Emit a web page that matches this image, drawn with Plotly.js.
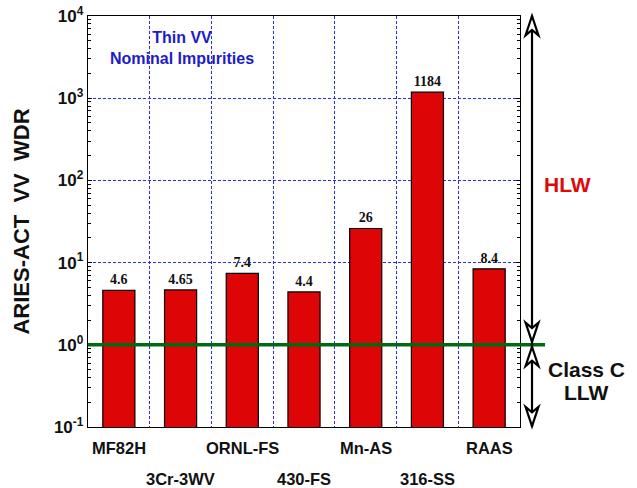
<!DOCTYPE html>
<html>
<head>
<meta charset="utf-8">
<script src="https://cdn.plot.ly/plotly-3.0.1.min.js"></script>
<style>html,body{margin:0;padding:0;background:#fff;}#chart{width:637px;height:488px;}</style>
</head>
<body>
<div id="chart"></div>
<script>
// ---- data ----
var categories = ["MF82H", "3Cr-3WV", "ORNL-FS", "430-FS", "Mn-AS", "316-SS", "RAAS"];
var wdrValues = [4.6, 4.65, 7.4, 4.4, 26, 1184, 8.4];
var wdrLabels = ["4.6", "4.65", "7.4", "4.4", "26", "1184", "8.4"];
var labelRow = [0, 1, 0, 1, 0, 1, 0];
var yTickVals = [0.1, 1, 10, 100, 1000, 10000];
var yTickText = ["10<sup>-1</sup>", "10<sup>0</sup>", "10<sup>1</sup>", "10<sup>2</sup>", "10<sup>3</sup>", "10<sup>4</sup>"];
var classCLimit = 1;

var xs = categories.map(function (c, i) { return i + 1; });

// minor log ticks (axis decoration)
var minorVals = [];
for (var d = -1; d < 4; d++) { for (var k = 2; k <= 9; k++) { minorVals.push(k * Math.pow(10, d)); } }

var SANS = 'Liberation Sans, Arial, sans-serif';
var trace = {
  type: 'bar',
  x: xs,
  y: wdrValues,
  width: 0.52,
  marker: { color: '#dd0505', line: { color: '#000', width: 1.2 } },
  text: wdrLabels.map(function (t) { return '<b>' + t + '</b>'; }),
  textposition: 'outside',
  textfont: { family: 'Liberation Serif, Times New Roman, serif', size: 14, color: '#111' },
  cliponaxis: false,
  hoverinfo: 'skip'
};

var annotations = categories.map(function (c, i) {
  return {
    x: xs[i], xref: 'x', y: labelRow[i] === 0 ? -0.05 : -0.127, yref: 'paper',
    yanchor: 'middle', xanchor: 'center', showarrow: false,
    text: '<b>' + c + '</b>', font: { family: SANS, size: 16.5, color: '#111' }
  };
});
annotations.push(
  { x: 0.218, y: 0.922, xref: 'paper', yref: 'paper', showarrow: false, align: 'center', yanchor: 'middle', xanchor: 'center',
    text: '<b>Thin VV<br>Nominal Impurities</b>', font: { family: SANS, size: 16, color: '#1c1ccc' } },
  { x: 1.109, y: 0.589, xref: 'paper', yref: 'paper', showarrow: false, xanchor: 'center', yanchor: 'middle',
    text: '<b>HLW</b>', font: { family: SANS, size: 21, color: '#dd0a0a' } },
  { x: 1.153, y: 0.139, xref: 'paper', yref: 'paper', showarrow: false, xanchor: 'center', yanchor: 'middle',
    text: '<b>Class C</b>', font: { family: SANS, size: 21, color: '#111' } },
  { x: 1.153, y: 0.083, xref: 'paper', yref: 'paper', showarrow: false, xanchor: 'center', yanchor: 'middle',
    text: '<b>LLW</b>', font: { family: SANS, size: 21, color: '#111' } }
);

// right-hand arrows (paper coordinates)
var ax = 1.0278, hw = 0.015, hh = 0.047;
function head(tipY, dir) { // dir +1 points up, -1 points down
  var base = tipY - dir * hh, notch = tipY - dir * hh * 0.72;
  return 'M' + ax + ',' + tipY + ' L' + (ax - hw) + ',' + base + ' L' + ax + ',' + notch +
         ' L' + (ax + hw) + ',' + base + ' Z';
}
var yLine = (Math.log10(classCLimit) + 1) / 5;
var shapes = [
  { type: 'line', xref: 'paper', yref: 'y', x0: 0, x1: 1.058, y0: classCLimit, y1: classCLimit,
    line: { color: '#006a10', width: 3.5 } },
  { type: 'line', xref: 'paper', yref: 'paper', x0: ax, x1: ax, y0: 1.0, y1: 0.0, line: { color: '#000', width: 2.2 } },
  { type: 'path', xref: 'paper', yref: 'paper', path: head(1.0, 1), fillcolor: '#fff', line: { color: '#000', width: 2.2 } },
  { type: 'path', xref: 'paper', yref: 'paper', path: head(yLine + 0.007, -1), fillcolor: '#fff', line: { color: '#000', width: 2.2 } },
  { type: 'path', xref: 'paper', yref: 'paper', path: head(yLine - 0.005, 1), fillcolor: '#fff', line: { color: '#000', width: 2.2 } },
  { type: 'path', xref: 'paper', yref: 'paper', path: head(0.002, -1), fillcolor: '#fff', line: { color: '#000', width: 2.2 } }
];

var layout = {
  width: 637, height: 488,
  margin: { l: 88, r: 117, t: 16, b: 61 },
  paper_bgcolor: '#fff', plot_bgcolor: '#fff',
  showlegend: false,
  bargap: 0,
  xaxis: {
    type: 'linear', range: [0.5, 7.5], tick0: 1.5, dtick: 1,
    showticklabels: false, ticks: '',
    showgrid: true, gridcolor: '#2b2bf0', griddash: '3px,2px', gridwidth: 1,
    zeroline: false, showline: true, mirror: true, linecolor: '#000', linewidth: 1.2
  },
  yaxis: {
    type: 'log', range: [-1, 4],
    tickmode: 'array', tickvals: yTickVals, ticktext: yTickText.map(function (t) { return '<b>' + t + '</b>'; }),
    tickfont: { family: SANS, size: 17, color: '#111' },
    ticks: 'inside', ticklen: 4, tickcolor: '#000', tickwidth: 1,
    minor: { tickmode: 'array', tickvals: minorVals, ticks: 'inside', ticklen: 3, tickcolor: '#000', tickwidth: 1, showgrid: false },
    showgrid: true, gridcolor: '#2b2bf0', griddash: '3px,2px', gridwidth: 1,
    zeroline: false, showline: true, mirror: 'allticks', linecolor: '#000', linewidth: 1.2,
    title: { text: '<b>ARIES-ACT  VV  WDR</b>', standoff: 18,
             font: { family: SANS, size: 22, color: '#111' } }
  },
  annotations: annotations,
  shapes: shapes
};

Plotly.newPlot('chart', [trace], layout, { displayModeBar: false, staticPlot: true });
</script>
</body>
</html>
